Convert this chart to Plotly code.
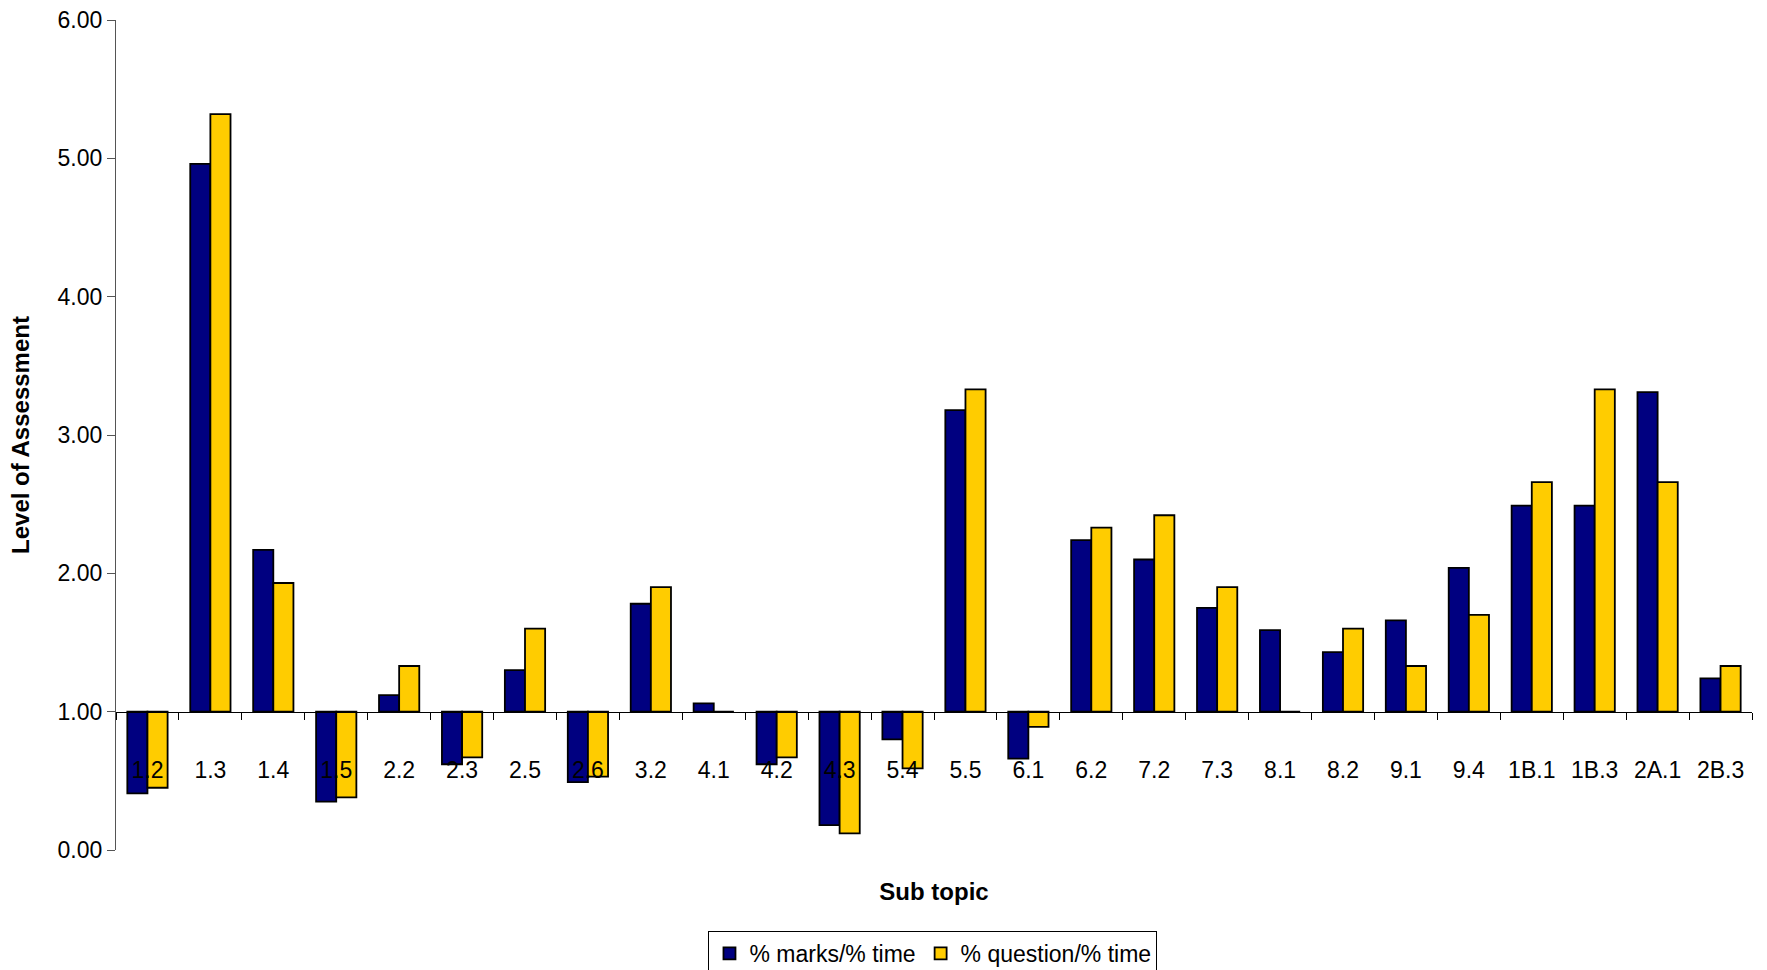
import plotly.graph_objects as go

# Sub topics along the category axis
sub_topics = ["1.2", "1.3", "1.4", "1.5", "2.2", "2.3", "2.5", "2.6", "3.2", "4.1",
              "4.2", "4.3", "5.4", "5.5", "6.1", "6.2", "7.2", "7.3", "8.1", "8.2",
              "9.1", "9.4", "1B.1", "1B.3", "2A.1", "2B.3"]

# Ratio of % marks to % time for each sub topic
marks_per_time = [0.41, 4.96, 2.17, 0.35, 1.12, 0.62, 1.30, 0.49, 1.78, 1.06,
                  0.62, 0.18, 0.80, 3.18, 0.66, 2.24, 2.10, 1.75, 1.59, 1.43,
                  1.66, 2.04, 2.49, 2.49, 3.31, 1.24]

# Ratio of % questions to % time for each sub topic
questions_per_time = [0.45, 5.32, 1.93, 0.38, 1.33, 0.67, 1.60, 0.53, 1.90, 1.00,
                      0.67, 0.12, 0.59, 3.33, 0.89, 2.33, 2.42, 1.90, 1.00, 1.60,
                      1.33, 1.70, 2.66, 3.33, 2.66, 1.33]

# The category axis crosses the value axis at this level; bars grow from it
crossing = 1.0

FONT = "Liberation Sans, Arial, sans-serif"

fig = go.Figure()
for name, values, colour in [
    ("% marks/% time", marks_per_time, "#000080"),
    ("% question/% time", questions_per_time, "#FFCC00"),
]:
    fig.add_trace(go.Bar(
        name=name,
        x=sub_topics,
        y=[v - crossing for v in values],
        base=crossing,
        customdata=values,
        hovertemplate="%{x}: %{customdata:.2f}<extra>" + name + "</extra>",
        marker=dict(color=colour, line=dict(color="black", width=1.8)),
    ))

fig.update_layout(
    width=1767,
    height=970,
    margin=dict(l=116, r=15, t=20, b=120),
    paper_bgcolor="white",
    plot_bgcolor="white",
    barmode="group",
    bargap=0.36,
    bargroupgap=0,
    font=dict(family=FONT, size=23, color="black"),
    showlegend=True,
    legend=dict(
        orientation="h",
        xref="container", yref="container",
        x=0.528, y=1 - 931 / 970,
        xanchor="center", yanchor="top",
        bordercolor="black", borderwidth=1,
        font=dict(size=23),
        itemwidth=30,
        traceorder="normal",
    ),
    xaxis=dict(
        type="category",
        anchor="free",
        position=crossing / 6.0,
        automargin=False,
        showline=True, linecolor="black", linewidth=1.3,
        ticks="outside", tickson="boundaries", ticklen=7, tickcolor="black",
        ticklabelstandoff=38,
        showgrid=False, zeroline=False,
        tickfont=dict(size=23),
        title=dict(text="<b>Sub topic</b>", font=dict(size=24), standoff=100),
    ),
    yaxis=dict(
        range=[0, 6],
        dtick=1,
        tickformat=".2f",
        automargin=False,
        showline=True, linecolor="#555555", linewidth=1.3,
        ticks="outside", ticklen=8, tickcolor="#555555",
        showgrid=False, zeroline=False,
        tickfont=dict(size=23),
        title=dict(text="<b>Level of Assessment</b>", font=dict(size=24), standoff=21),
    ),
)

fig.write_html("out.html")
